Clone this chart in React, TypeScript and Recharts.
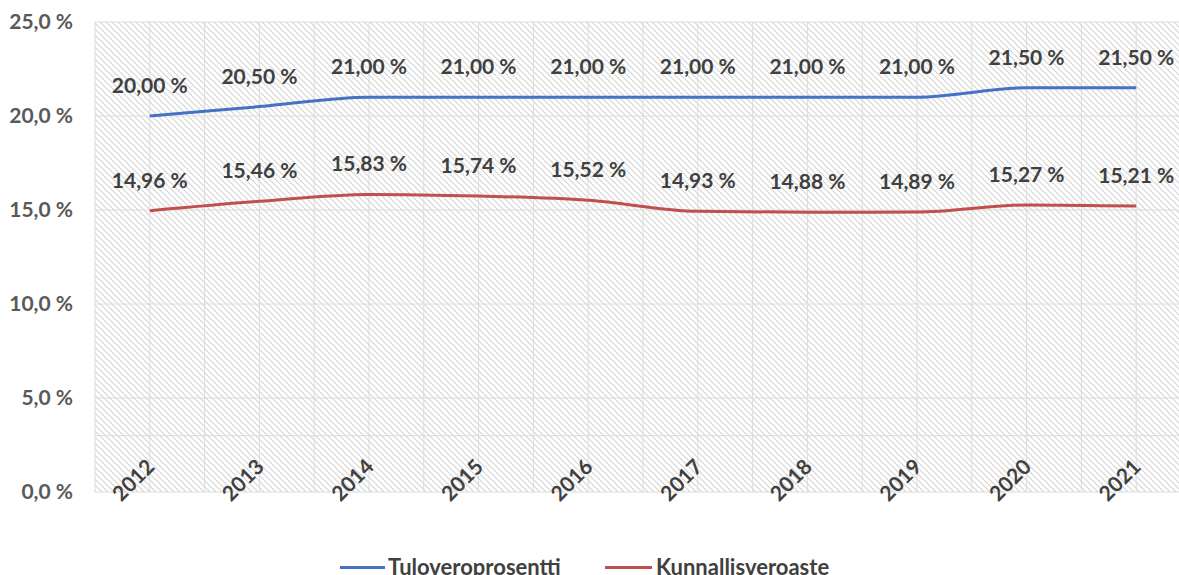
import React from 'react';
import { LineChart, Line, XAxis, YAxis, CartesianGrid, Legend, LabelList, ReferenceLine } from 'recharts';

const years = ['2012', '2013', '2014', '2015', '2016', '2017', '2018', '2019', '2020', '2021'];
const tuloveroprosentti = [20.0, 20.5, 21.0, 21.0, 21.0, 21.0, 21.0, 21.0, 21.5, 21.5];
const kunnallisveroaste = [14.96, 15.46, 15.83, 15.74, 15.52, 14.93, 14.88, 14.89, 15.27, 15.21];
const yTicks = [0, 5, 10, 15, 20, 25];
const seriesNames = ['Tuloveroprosentti', 'Kunnallisveroaste'];

const data = years.map((y, i) => ({ year: y, tulo: tuloveroprosentti[i], kunta: kunnallisveroaste[i] }));

const FONT = 'Lato, "Open Sans", sans-serif';
const BLUE = '#4472C4';
const RED = '#C0504D';
const GRID = '#dcdcdc';

const fmtLabel = (v: any) => Number(v).toFixed(2).replace('.', ',') + '\u00a0%';
const fmtAxis = (v: any) => Number(v).toFixed(1).replace('.', ',') + '\u00a0%';

const YearTick = (props: any) => {
  const { x, y, payload } = props;
  const ax = x + 6;
  const ay = y - 24;
  return (
    <text x={ax} y={ay} transform={`rotate(-45, ${ax}, ${ay})`} textAnchor="end" fill="#404040"
      fontFamily={FONT} fontWeight={700} fontSize={21}>
      {payload.value}
    </text>
  );
};

const LegendContent = () => (
  <div style={{ position: 'relative', height: 40, fontFamily: FONT, fontWeight: 700, fontSize: 22, color: '#404040' }}>
    <div style={{ position: 'absolute', left: 340, top: 31, width: 45, height: 3, background: BLUE }} />
    <div style={{ position: 'absolute', left: 388, top: 18, lineHeight: '28px', whiteSpace: 'nowrap' }}>{seriesNames[0]}</div>
    <div style={{ position: 'absolute', left: 605, top: 31, width: 47, height: 3, background: RED }} />
    <div style={{ position: 'absolute', left: 656, top: 18, lineHeight: '28px', whiteSpace: 'nowrap' }}>{seriesNames[1]}</div>
  </div>
);

export default function App() {
  const n = years.length;
  return (
    <div style={{ position: 'absolute', left: 0, top: 0, width: 1179, height: 575, overflow: 'hidden', background: '#fff' }}>
      <svg width={0} height={0} style={{ position: 'absolute' }}>
        <defs>
          <pattern id="hatch" patternUnits="userSpaceOnUse" width={6} height={6}>
            <rect x={0} y={0} width={6} height={6} fill="#ffffff" />
            <path d="M-1,-1 L7,7 M-1,5 L1,7 M5,-1 L7,1" stroke="#d4d4d4" strokeWidth={1.1} />
          </pattern>
        </defs>
      </svg>
      <LineChart width={1200} height={575} data={data} margin={{ top: 22, right: 9, left: 0, bottom: 0 }}>
        <CartesianGrid
          fill="url(#hatch)"
          fillOpacity={1}
          stroke={GRID}
          strokeWidth={1}
          verticalCoordinatesGenerator={({ offset }: any) => {
            const band = offset.width / n;
            const pts: number[] = [];
            for (let i = 0; i <= 2 * n; i++) pts.push(offset.left + (i * band) / 2);
            return pts;
          }}
        />
        <ReferenceLine y={3} stroke={GRID} strokeWidth={1} />
        <XAxis dataKey="year" scale="band" axisLine={false} tickLine={false} tickSize={0} tickMargin={0} height={43}
          tick={<YearTick />} interval={0} />
        <YAxis domain={[0, 25]} ticks={yTicks} axisLine={false} tickLine={false} tickSize={0} tickMargin={22} width={95}
          tickFormatter={fmtAxis}
          tick={{ fill: '#595959', fontFamily: FONT, fontWeight: 700, fontSize: 21 }} />
        <Legend verticalAlign="bottom" height={40} content={<LegendContent />} />
        <Line type="monotone" dataKey="tulo" name={seriesNames[0]} stroke={BLUE} strokeWidth={3} dot={false} isAnimationActive={false}>
          <LabelList dataKey="tulo" position="top" offset={23} formatter={fmtLabel}
            style={{ fill: '#404040', fontFamily: FONT, fontWeight: 700, fontSize: 21 }} />
        </Line>
        <Line type="monotone" dataKey="kunta" name={seriesNames[1]} stroke={RED} strokeWidth={3} dot={false} isAnimationActive={false}>
          <LabelList dataKey="kunta" position="top" offset={23} formatter={fmtLabel}
            style={{ fill: '#404040', fontFamily: FONT, fontWeight: 700, fontSize: 21 }} />
        </Line>
      </LineChart>
    </div>
  );
}
